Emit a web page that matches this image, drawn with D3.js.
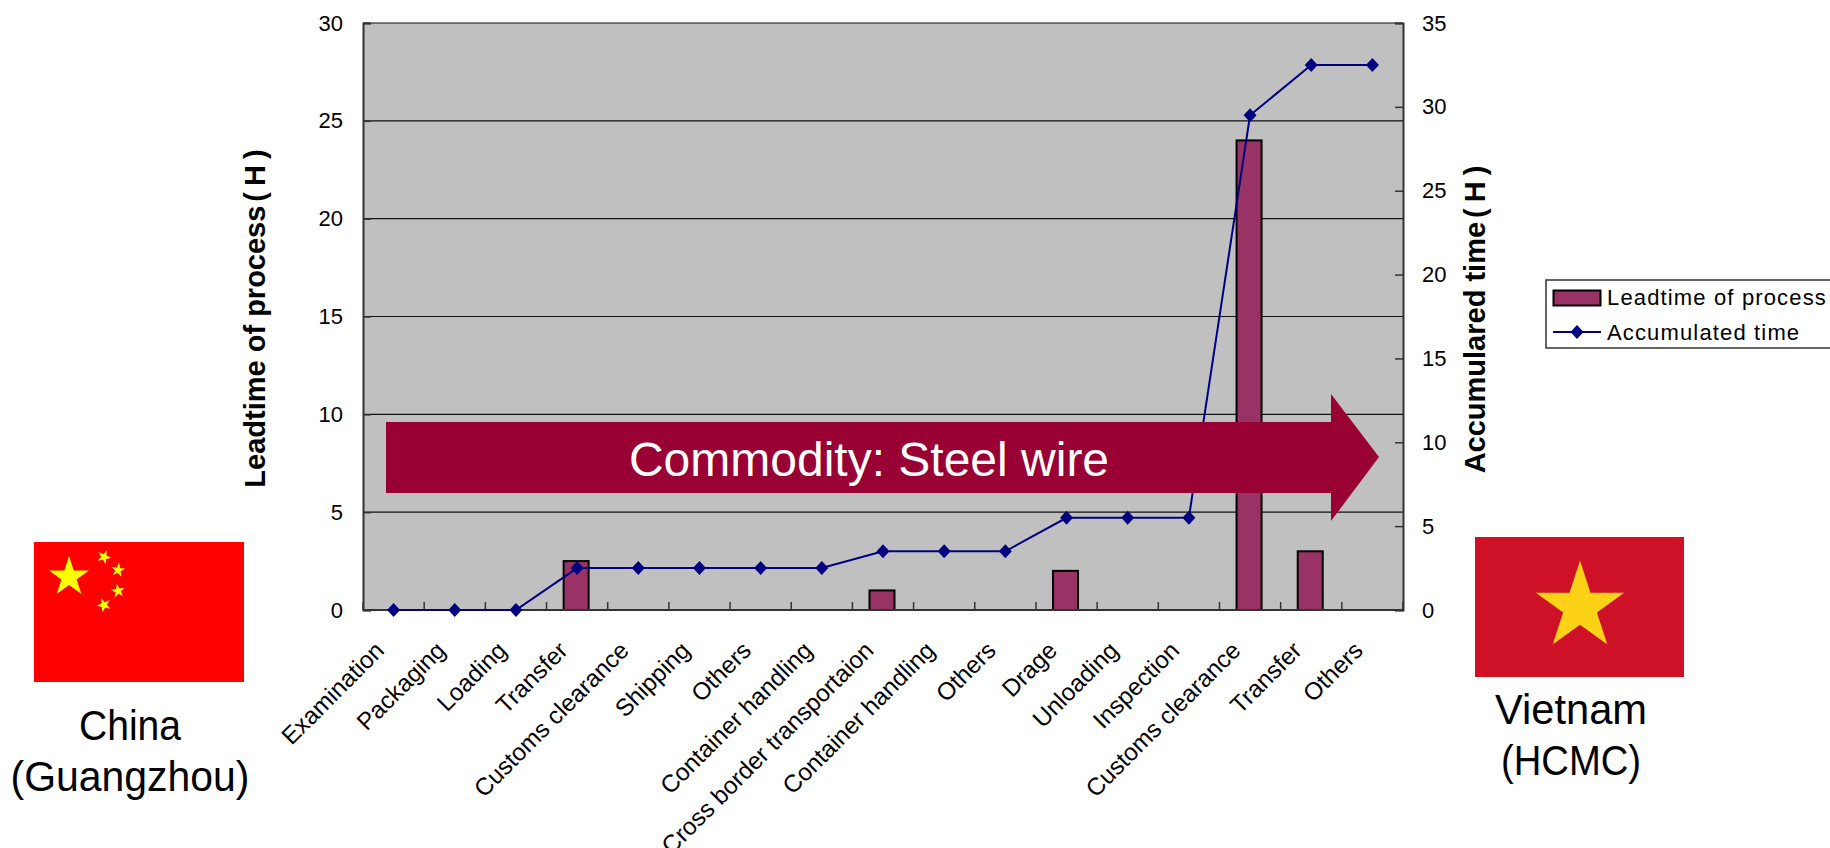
<!DOCTYPE html>
<html><head><meta charset="utf-8">
<style>html,body{margin:0;padding:0;background:#fff;overflow:hidden}svg{display:block}text{font-family:"Liberation Sans",Arial,sans-serif}</style>
<script src="https://cdnjs.cloudflare.com/ajax/libs/d3/7.8.5/d3.min.js"></script>
</head><body><svg id="c" width="1830" height="848"></svg>
<script>
const categories = ["Examination","Packaging","Loading","Transfer","Customs clearance","Shipping","Others","Container handling","Cross border transportaion","Container handling","Others","Drage","Unloading","Inspection","Customs clearance","Transfer","Others"];
const leadtime = [0,0,0,2.5,0,0,0,0,1,0,0,2,0,0,24,3,0];
const accumulated = [0,0,0,2.5,2.5,2.5,2.5,2.5,3.5,3.5,3.5,5.5,5.5,5.5,29.5,32.5,32.5];
const leftTicks = [0,5,10,15,20,25,30];
const rightTicks = [0,5,10,15,20,25,30,35];

const svg = d3.select("#c");
const L=363,R=1403,T=23,B=610;
const x = d3.scaleBand().domain(d3.range(categories.length)).range([L,R]);
const yL = d3.scaleLinear().domain([0,30]).range([B,T]);
const yR = d3.scaleLinear().domain([0,35]).range([B,T]);

svg.append("rect").attr("x",L).attr("y",T).attr("width",R-L).attr("height",B-T).attr("fill","#c0c0c0");
svg.append("g").selectAll("line").data(leftTicks.filter(d=>d>0)).join("line")
  .attr("x1",L).attr("x2",R).attr("y1",d=>yL(d)).attr("y2",d=>yL(d))
  .attr("stroke","#111").attr("stroke-width",1.2);

// bars
const barW=25;
svg.append("g").selectAll("rect").data(leadtime.map((v,i)=>({v,i})).filter(d=>d.v>0)).join("rect")
  .attr("x",d=>x(d.i)+x.bandwidth()/2-barW/2-1).attr("width",barW)
  .attr("y",d=>yL(d.v)).attr("height",d=>B-yL(d.v))
  .attr("fill","#993366").attr("stroke","#000").attr("stroke-width",2);

// axes
function styleAxis(g){
  g.selectAll(".domain").attr("stroke","#333").attr("stroke-width",2);
  g.selectAll(".tick line").attr("stroke","#333").attr("stroke-width",1.5);
  g.selectAll("text").attr("fill","#000").attr("font-size",22).attr("font-family","'Liberation Sans',Arial,sans-serif");
}
svg.append("g").attr("transform",`translate(${L},0)`)
  .call(d3.axisLeft(yL).tickValues(leftTicks).tickSize(-8).tickPadding(20)).call(styleAxis);
svg.append("g").attr("transform",`translate(${R},0)`)
  .call(d3.axisRight(yR).tickValues(rightTicks).tickSize(-8).tickPadding(19)).call(styleAxis);
const gX = svg.append("g").attr("transform",`translate(0,${B})`);
gX.append("line").attr("x1",L).attr("x2",R).attr("stroke","#333").attr("stroke-width",2);
gX.selectAll("line.t").data(d3.range(categories.length+1)).join("line").attr("class","t")
  .attr("x1",i=>L+i*x.step()).attr("x2",i=>L+i*x.step()).attr("y1",0).attr("y2",-8)
  .attr("stroke","#333").attr("stroke-width",1.5);
gX.selectAll("text").data(categories).join("text")
  .attr("transform",(d,i)=>`translate(${x(i)+x.bandwidth()/2-20},${30}) rotate(-45)`)
  .attr("text-anchor","end").attr("dy","0.7em").attr("font-size",24.2).text(d=>d);

// line
const lineGen = d3.line().x((d,i)=>x(i)+x.bandwidth()/2).y(d=>yR(d));
svg.append("path").attr("d",lineGen(accumulated)).attr("fill","none").attr("stroke","#000080").attr("stroke-width",2);
const diamond = (cx,cy,w=6.5,h=7)=>`M${cx},${cy-h}L${cx+w},${cy}L${cx},${cy+h}L${cx-w},${cy}Z`;
svg.append("g").selectAll("path").data(accumulated).join("path")
  .attr("d",(d,i)=>diamond(x(i)+x.bandwidth()/2,yR(d))).attr("fill","#000080");

// arrow
svg.append("path").attr("d","M386,422H1331V394L1379,457L1331,521V493H386Z").attr("fill","#990033");
svg.append("text").attr("x",869).attr("y",476).attr("text-anchor","middle").attr("font-size",48).attr("fill","#fff").text("Commodity: Steel wire");

// axis titles
function axisTitle(px,py,label){
  const t = svg.append("text").attr("transform",`translate(${px},${py}) rotate(-90)`).attr("text-anchor","middle")
    .attr("font-size",29).attr("font-weight","bold");
  t.append("tspan").text(label);
  t.append("tspan").attr("dx",4).text("(");
  t.append("tspan").attr("dx",6).text("H");
  t.append("tspan").attr("dx",6).text(")");
}
axisTitle(265,318.5,"Leadtime of process");
axisTitle(1485,319.5,"Accumulared time");

// legend
const lg = svg.append("g");
lg.append("rect").attr("x",1546).attr("y",280).attr("width",300).attr("height",68).attr("fill","#fff").attr("stroke","#333").attr("stroke-width",1.5);
lg.append("rect").attr("x",1553.5).attr("y",290.5).attr("width",47).attr("height",15).attr("fill","#993366").attr("stroke","#000").attr("stroke-width",2);
lg.append("line").attr("x1",1553).attr("x2",1601).attr("y1",332).attr("y2",332).attr("stroke","#000080").attr("stroke-width",2);
lg.append("path").attr("d",diamond(1577,332)).attr("fill","#000080");
[["Leadtime of process",305],["Accumulated time",340]].forEach(([t,y])=>{
  lg.append("text").attr("x",1607).attr("y",y).attr("font-size",22).attr("letter-spacing",1.15).text(t);
});

// flags
function star(cx,cy,r,rot=0){
  const pts=[];
  for(let i=0;i<10;i++){const a=-Math.PI/2+rot+i*Math.PI/5,q=i%2?r*0.382:r;pts.push([cx+q*Math.cos(a),cy+q*Math.sin(a)]);}
  return "M"+pts.map(p=>p.join(",")).join("L")+"Z";
}
svg.append("rect").attr("x",34).attr("y",542).attr("width",210).attr("height",140).attr("fill","#ff0000");
svg.append("path").attr("d",star(69,577,21)).attr("fill","#ffff00");
[[104,557,.4],[118,570,.15],[118,591,-.15],[104,605,-.4]].forEach(([a,b,r])=>{
  svg.append("path").attr("d",star(a,b,7.5,r)).attr("fill","#ffff00");
});
svg.append("rect").attr("x",1475).attr("y",537).attr("width",209).attr("height",140).attr("fill","#ce1126");
svg.append("path").attr("d",star(1580,607,46.5)).attr("fill","#fcd116");

// place labels
[["China",130,740,102],["(Guangzhou)",130,791,239],["Vietnam",1571,724,152],["(HCMC)",1571,775,140]].forEach(([t,a,b,w])=>{
  svg.append("text").attr("x",a).attr("y",b).attr("text-anchor","middle").attr("font-size",43).attr("fill","#000")
    .attr("textLength",w).attr("lengthAdjust","spacingAndGlyphs").text(t);
});
</script></body></html>
